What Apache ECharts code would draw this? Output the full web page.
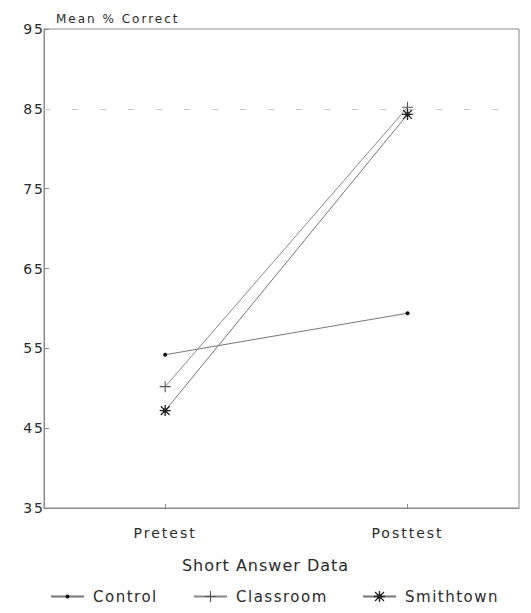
<!DOCTYPE html>
<html>
<head>
<meta charset="utf-8">
<script src="https://cdn.jsdelivr.net/npm/echarts@6/dist/echarts.min.js"></script>
<style>
  html, body { margin: 0; padding: 0; background: #fff; }
  #chart { width: 531px; height: 613px; }
  #chart text { letter-spacing: 2px; }
  #chart text[style*="16px"] { letter-spacing: 1px; }
  #chart text[style*="15px"] { letter-spacing: 1.5px; }
</style>
</head>
<body>
<div id="chart"></div>
<script>
const categories = ['Pretest', 'Posttest'];
const control = [54.2, 59.4];
const classroom = [50.2, 85.2];
const smithtown = [47.2, 84.3];
const seriesNames = ['Control', 'Classroom', 'Smithtown'];
const referenceLine = 85;

const plusPath = 'path://M0,4.5H10V5.5H0Z M4.5,0H5.5V10H4.5Z';
const starPath = 'path://M0,4.4H10V5.6H0Z M4.4,0H5.6V10H4.4Z M0.6,1.4L1.4,0.6L9.4,8.6L8.6,9.4Z M8.6,0.6L9.4,1.4L1.4,9.4L0.6,8.6Z M3,3H7V7H3Z';

function toPoints(arr) { return categories.map((c, i) => [i, arr[i]]); }

const chart = echarts.init(document.getElementById('chart'), null, { renderer: 'svg' });
const textColor = '#2a2a2a';
const fontFamily = 'DejaVu Sans';

chart.setOption({
  animation: false,
  backgroundColor: '#fff',
  title: [
    { text: 'Mean % Correct', left: 51, top: 8,
      textStyle: { fontSize: 12, fontWeight: 'normal', color: textColor, fontFamily } },
    { text: 'Short Answer Data', left: 'center', top: 552,
      textStyle: { fontSize: 16, fontWeight: 'normal', color: textColor, fontFamily } }
  ],
  legend: [
    { data: [seriesNames[0]], left: 50, top: 589, itemHeight: 5 },
    { data: [seriesNames[1]], left: 193, top: 589, itemHeight: 14 },
    { data: [seriesNames[2]], left: 362, top: 589, itemHeight: 14 }
  ].map(l => Object.assign(l, {
    itemWidth: 33, padding: 0,
    textStyle: { fontSize: 15, color: textColor, fontFamily, padding: [0, 0, 0, 4] }
  })),
  grid: { left: 44, right: 12, top: 29, bottom: 105, show: true, borderColor: '#8a8a8a', borderWidth: 1 },
  xAxis: {
    type: 'value', min: -0.5, max: 1.46,
    splitLine: { show: false },
    axisLine: { show: true, onZero: false, lineStyle: { color: '#8a8a8a' } },
    axisTick: { show: true, inside: true, length: 4, customValues: [0, 1], lineStyle: { color: '#8a8a8a' } },
    axisLabel: { customValues: [0, 1], margin: 18, fontSize: 14, color: textColor, fontFamily,
      formatter: v => categories[Math.round(v)] }
  },
  yAxis: {
    type: 'value', min: 35, max: 95, interval: 10,
    splitLine: { show: false },
    axisLine: { show: true, onZero: false, lineStyle: { color: '#8a8a8a' } },
    axisTick: { show: true, inside: true, length: 5, lineStyle: { color: '#8a8a8a' } },
    axisLabel: { margin: -1, fontSize: 14, color: textColor, fontFamily }
  },
  series: [
    { name: seriesNames[0], type: 'line', data: toPoints(control),
      symbol: 'circle', symbolSize: 4,
      lineStyle: { color: '#777', width: 1 }, itemStyle: { color: '#111' },
      markLine: { silent: true, symbol: 'none', label: { show: false },
        lineStyle: { color: '#c8c8c8', type: [6, 22], width: 1 },
        data: [{ yAxis: referenceLine }] } },
    { name: seriesNames[1], type: 'line', data: toPoints(classroom),
      symbol: plusPath, symbolSize: 11,
      lineStyle: { color: '#888', width: 1 }, itemStyle: { color: '#555' } },
    { name: seriesNames[2], type: 'line', data: toPoints(smithtown),
      symbol: starPath, symbolSize: 11,
      lineStyle: { color: '#777', width: 1 }, itemStyle: { color: '#222' } }
  ]
});
</script>
</body>
</html>
